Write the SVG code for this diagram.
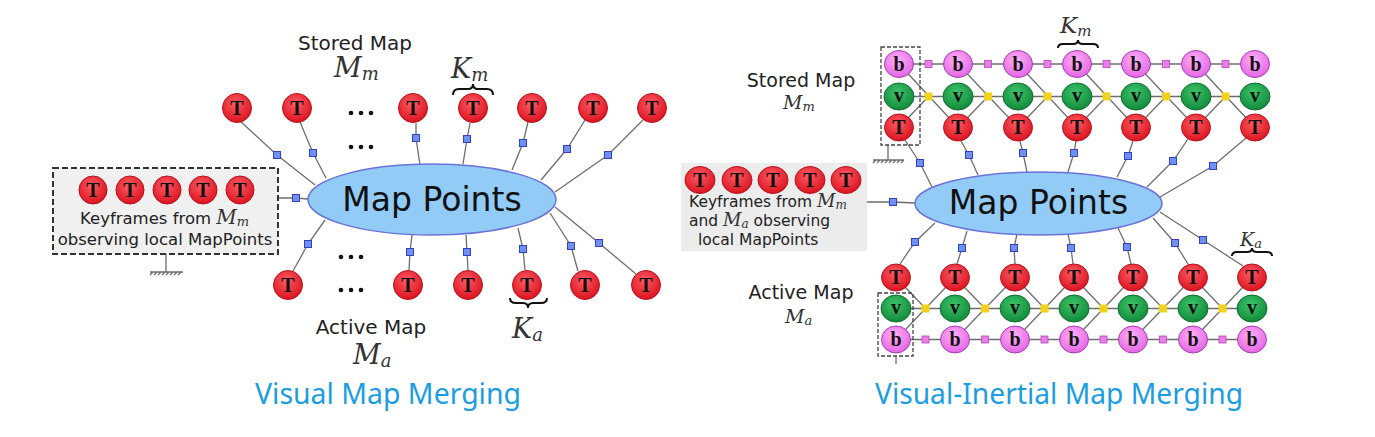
<svg xmlns="http://www.w3.org/2000/svg" width="1375" height="437" viewBox="0 0 1375 437">
<defs>
<radialGradient id="gT" cx="45%" cy="35%" r="65%"><stop offset="0" stop-color="#ff5a64"/><stop offset="1" stop-color="#d9141f"/></radialGradient>
<radialGradient id="gV" cx="45%" cy="35%" r="65%"><stop offset="0" stop-color="#3cc46a"/><stop offset="1" stop-color="#128a3a"/></radialGradient>
<radialGradient id="gB" cx="45%" cy="35%" r="65%"><stop offset="0" stop-color="#ffb0f6"/><stop offset="1" stop-color="#e466e4"/></radialGradient>
<style>
.ln{stroke:#6e6e6e;stroke-width:1.3;fill:none}
.sq{fill:#6f90f2;stroke:#3340c0;stroke-width:1}
.ysq{fill:#f2d21c}
.msq{fill:#e97ee9;stroke:#b548b5;stroke-width:0.8}
.tn{fill:url(#gT);stroke:#b8121f;stroke-width:1}
.vn{fill:url(#gV);stroke:#0f6e30;stroke-width:1}
.bn{fill:url(#gB);stroke:#a53cb5;stroke-width:1}
.lt{font-family:"Liberation Serif",serif;font-weight:bold;font-size:20px;fill:#111;text-anchor:middle}
.lab{font-family:"DejaVu Sans",sans-serif;fill:#222}
.mi{font-family:"DejaVu Serif",serif;font-style:italic;fill:#333}
.cap{font-family:"Noto Sans",sans-serif;fill:#1b9de2;font-size:29px}
.mp{fill:#93cbf7;stroke:#6a72d8;stroke-width:1.5}
.mpt{font-family:"DejaVu Sans",sans-serif;font-size:33px;fill:#111;text-anchor:middle}
.box{fill:#f0f0f0;stroke:#333;stroke-width:2;stroke-dasharray:6 3}
.dbox{fill:none;stroke:#444;stroke-width:1.3;stroke-dasharray:4 2}
.br{fill:none;stroke:#111;stroke-width:2}
.dot{fill:#111}
</style>
</defs>
<rect width="1375" height="437" fill="#fff"/>

<!-- LEFT: Visual Map Merging -->
<g id="left-connectors">
<polyline class="ln" points="240,121 277,155 315,185"/>
<polyline class="ln" points="300,122 313,153 326,178"/>
<polyline class="ln" points="416,123 416,138 420,165"/>
<polyline class="ln" points="470,123 467,139 463,164"/>
<polyline class="ln" points="528,122 523,143 512,170"/>
<polyline class="ln" points="585,120 567,149 541,180"/>
<polyline class="ln" points="643,120 608,155 555,192"/>
<polyline class="ln" points="293,271 308,244 325,220"/>
<polyline class="ln" points="409,270 410,252 412,235"/>
<polyline class="ln" points="468,270 467,252 466,235"/>
<polyline class="ln" points="525,270 523,249 518,228"/>
<polyline class="ln" points="578,271 571,246 550,213"/>
<polyline class="ln" points="636,274 599,243 555,207"/>
<polyline class="ln" points="278,198 296,198 308,199"/>
<path class="ln" d="M166 254V272M150 272H183M153 272l-3 3M157 272l-3 3M161 272l-3 3M165 272l-3 3M169 272l-3 3M173 272l-3 3M177 272l-3 3M181 272l-3 3"/>
<rect class="sq" x="273.5" y="151.5" width="7" height="7"/>
<rect class="sq" x="309.5" y="149.5" width="7" height="7"/>
<rect class="sq" x="412.5" y="134.5" width="7" height="7"/>
<rect class="sq" x="463.5" y="135.5" width="7" height="7"/>
<rect class="sq" x="519.5" y="139.5" width="7" height="7"/>
<rect class="sq" x="563.5" y="145.5" width="7" height="7"/>
<rect class="sq" x="604.5" y="151.5" width="7" height="7"/>
<rect class="sq" x="304.5" y="240.5" width="7" height="7"/>
<rect class="sq" x="406.5" y="248.5" width="7" height="7"/>
<rect class="sq" x="463.5" y="248.5" width="7" height="7"/>
<rect class="sq" x="519.5" y="245.5" width="7" height="7"/>
<rect class="sq" x="567.5" y="242.5" width="7" height="7"/>
<rect class="sq" x="595.5" y="239.5" width="7" height="7"/>
<rect class="sq" x="292.5" y="194.5" width="7" height="7"/>
</g>

<g id="left-mappoints">
<ellipse class="mp" cx="432" cy="199.5" rx="124" ry="35.5"/>
<text class="mpt" x="432" y="211">Map Points</text>
</g>

<g id="left-keyframes-box">
<rect class="box" x="53" y="168" width="225" height="86"/>
<circle class="tn" cx="93" cy="190" r="14"/><text class="lt" x="93" y="196.5">T</text>
<circle class="tn" cx="130" cy="190" r="14"/><text class="lt" x="130" y="196.5">T</text>
<circle class="tn" cx="167" cy="190" r="14"/><text class="lt" x="167" y="196.5">T</text>
<circle class="tn" cx="203" cy="190" r="14"/><text class="lt" x="203" y="196.5">T</text>
<circle class="tn" cx="240" cy="190" r="14"/><text class="lt" x="240" y="196.5">T</text>
<text class="lab" x="80" y="224" font-size="16.5">Keyframes from <tspan class="mi" font-size="20">M</tspan><tspan class="mi" font-size="13" dy="2">m</tspan></text>
<text class="lab" x="165" y="245" font-size="16.5" text-anchor="middle">observing local MapPoints</text>
</g>

<g id="left-stored-map">
<g id="vm-t1"><circle class="tn" cx="237" cy="108" r="14.5"/><text class="lt" x="237" y="114.5">T</text></g>
<g id="vm-t2"><circle class="tn" cx="297" cy="108" r="14.5"/><text class="lt" x="297" y="114.5">T</text></g>
<g id="vm-t3"><circle class="tn" cx="413" cy="108" r="14.5"/><text class="lt" x="413" y="114.5">T</text></g>
<g id="vm-t4"><circle class="tn" cx="473" cy="108" r="14.5"/><text class="lt" x="473" y="114.5">T</text></g>
<g id="vm-t5"><circle class="tn" cx="532" cy="108" r="14.5"/><text class="lt" x="532" y="114.5">T</text></g>
<g id="vm-t6"><circle class="tn" cx="593" cy="108" r="14.5"/><text class="lt" x="593" y="114.5">T</text></g>
<g id="vm-t7"><circle class="tn" cx="652" cy="108" r="14.5"/><text class="lt" x="652" y="114.5">T</text></g>
<circle class="dot" cx="351" cy="113" r="2.3"/><circle class="dot" cx="361" cy="113" r="2.3"/><circle class="dot" cx="371" cy="113" r="2.3"/>
<circle class="dot" cx="351" cy="147" r="2.3"/><circle class="dot" cx="361" cy="147" r="2.3"/><circle class="dot" cx="371" cy="147" r="2.3"/>
<text class="lab" x="355" y="50" font-size="20" text-anchor="middle">Stored Map</text>
<text class="mi" x="334" y="77" font-size="27">M<tspan font-size="18" dy="3">m</tspan></text>
<path class="br" d="M453 95Q453 89 459 89H468Q473 89 473 84Q473 89 478 89H487Q493 89 493 95"/>
<text class="mi" x="451" y="78" font-size="27">K<tspan font-size="18" dy="3">m</tspan></text>
</g>

<g id="left-active-map">
<g id="vm-a1"><circle class="tn" cx="288" cy="285" r="14.5"/><text class="lt" x="288" y="291.5">T</text></g>
<g id="vm-a2"><circle class="tn" cx="408" cy="285" r="14.5"/><text class="lt" x="408" y="291.5">T</text></g>
<g id="vm-a3"><circle class="tn" cx="468" cy="285" r="14.5"/><text class="lt" x="468" y="291.5">T</text></g>
<g id="vm-a4"><circle class="tn" cx="527" cy="285" r="14.5"/><text class="lt" x="527" y="291.5">T</text></g>
<g id="vm-a5"><circle class="tn" cx="585" cy="285" r="14.5"/><text class="lt" x="585" y="291.5">T</text></g>
<g id="vm-a6"><circle class="tn" cx="646" cy="285" r="14.5"/><text class="lt" x="646" y="291.5">T</text></g>
<circle class="dot" cx="341" cy="257" r="2.3"/><circle class="dot" cx="351" cy="257" r="2.3"/><circle class="dot" cx="361" cy="257" r="2.3"/>
<circle class="dot" cx="341" cy="290" r="2.3"/><circle class="dot" cx="351" cy="290" r="2.3"/><circle class="dot" cx="361" cy="290" r="2.3"/>
<text class="lab" x="371" y="334" font-size="20" text-anchor="middle">Active Map</text>
<text class="mi" x="353" y="364" font-size="27">M<tspan font-size="18" dy="3">a</tspan></text>
<path class="br" d="M510 298Q510 303 516 303H523Q528 303 528 308Q528 303 533 303H541Q547 303 547 298"/>
<text class="mi" x="512" y="338" font-size="27">K<tspan font-size="18" dy="3">a</tspan></text>
</g>

<text class="cap" x="255" y="404" textLength="266" lengthAdjust="spacingAndGlyphs">Visual Map Merging</text>

<!-- RIGHT: Visual-Inertial Map Merging -->
<g id="right-connectors">
<path class="ln" d="M899 64H1255M899 96.5H1255"/>
<path class="ln" d="M899 64L958 127.5M958 64L1018 127.5M1018 64L1077 127.5M1077 64L1136 127.5M1136 64L1196 127.5M1196 64L1255 127.5"/>
<path class="ln" d="M899 127.5L928.5 96.5M958 127.5L988 96.5M1018 127.5L1047.5 96.5M1077 127.5L1106.5 96.5M1136 127.5L1166 96.5M1196 127.5L1225.5 96.5"/>
<path class="ln" d="M896 339.5H1252M896 308.5H1252"/>
<path class="ln" d="M896 339.5L955 277.5M955 339.5L1015 277.5M1015 339.5L1074 277.5M1074 339.5L1133 277.5M1133 339.5L1193 277.5M1193 339.5L1252 277.5"/>
<path class="ln" d="M896 277.5L925.5 308.5M955 277.5L985 308.5M1015 277.5L1044.5 308.5M1074 277.5L1103.5 308.5M1133 277.5L1163 308.5M1193 277.5L1222.5 308.5"/>
<polyline class="ln" points="905,140 920,163 932,187"/>
<polyline class="ln" points="961,141 969,155 978,175"/>
<polyline class="ln" points="1020,141 1023,153 1027,172"/>
<polyline class="ln" points="1076,141 1074,153 1068,172"/>
<polyline class="ln" points="1133,141 1128,156 1117,177"/>
<polyline class="ln" points="1188,139 1173,161 1147,187"/>
<polyline class="ln" points="1246,138 1213,166 1160,197"/>
<polyline class="ln" points="900,264 915,242 935,223"/>
<polyline class="ln" points="957,264 962,248 967,231"/>
<polyline class="ln" points="1015,264 1014,248 1017,234"/>
<polyline class="ln" points="1073,264 1071,248 1068,234"/>
<polyline class="ln" points="1131,264 1127,247 1118,228"/>
<polyline class="ln" points="1188,264 1175,243 1153,218"/>
<polyline class="ln" points="1243,266 1203,240 1160,212"/>
<polyline class="ln" points="867,202 893,202 915,203"/>
<path class="ln" d="M888 145V160M873 160H904M876 160l-3 3M880 160l-3 3M884 160l-3 3M888 160l-3 3M892 160l-3 3M896 160l-3 3M900 160l-3 3M904 160l-3 3"/>
<path class="ln" d="M896 356V364"/>
<rect class="sq" x="916.5" y="159.5" width="7" height="7"/>
<rect class="sq" x="965.5" y="151.5" width="7" height="7"/>
<rect class="sq" x="1019.5" y="149.5" width="7" height="7"/>
<rect class="sq" x="1070.5" y="149.5" width="7" height="7"/>
<rect class="sq" x="1124.5" y="152.5" width="7" height="7"/>
<rect class="sq" x="1169.5" y="157.5" width="7" height="7"/>
<rect class="sq" x="1209.5" y="162.5" width="7" height="7"/>
<rect class="sq" x="911.5" y="238.5" width="7" height="7"/>
<rect class="sq" x="958.5" y="244.5" width="7" height="7"/>
<rect class="sq" x="1010.5" y="244.5" width="7" height="7"/>
<rect class="sq" x="1067.5" y="244.5" width="7" height="7"/>
<rect class="sq" x="1123.5" y="243.5" width="7" height="7"/>
<rect class="sq" x="1171.5" y="239.5" width="7" height="7"/>
<rect class="sq" x="1199.5" y="236.5" width="7" height="7"/>
<rect class="sq" x="889.5" y="198.5" width="7" height="7"/>
<rect class="ysq" x="924.5" y="92.5" width="8" height="8"/>
<rect class="ysq" x="984" y="92.5" width="8" height="8"/>
<rect class="ysq" x="1043.5" y="92.5" width="8" height="8"/>
<rect class="ysq" x="1102.5" y="92.5" width="8" height="8"/>
<rect class="ysq" x="1162" y="92.5" width="8" height="8"/>
<rect class="ysq" x="1221.5" y="92.5" width="8" height="8"/>
<rect class="ysq" x="921.5" y="304.5" width="8" height="8"/>
<rect class="ysq" x="981" y="304.5" width="8" height="8"/>
<rect class="ysq" x="1040.5" y="304.5" width="8" height="8"/>
<rect class="ysq" x="1099.5" y="304.5" width="8" height="8"/>
<rect class="ysq" x="1159" y="304.5" width="8" height="8"/>
<rect class="ysq" x="1218.5" y="304.5" width="8" height="8"/>
<rect class="msq" x="925" y="60.5" width="7" height="7"/>
<rect class="msq" x="984.5" y="60.5" width="7" height="7"/>
<rect class="msq" x="1044" y="60.5" width="7" height="7"/>
<rect class="msq" x="1103" y="60.5" width="7" height="7"/>
<rect class="msq" x="1162.5" y="60.5" width="7" height="7"/>
<rect class="msq" x="1222" y="60.5" width="7" height="7"/>
<rect class="msq" x="922" y="336" width="7" height="7"/>
<rect class="msq" x="981.5" y="336" width="7" height="7"/>
<rect class="msq" x="1041" y="336" width="7" height="7"/>
<rect class="msq" x="1100" y="336" width="7" height="7"/>
<rect class="msq" x="1159.5" y="336" width="7" height="7"/>
<rect class="msq" x="1219" y="336" width="7" height="7"/>
</g>

<g id="right-mappoints">
<ellipse class="mp" cx="1038.5" cy="203.5" rx="123.5" ry="31.5"/>
<text class="mpt" x="1038.5" y="214">Map Points</text>
</g>

<g id="right-keyframes-box">
<rect x="681" y="163" width="186" height="88" fill="#ececec"/>
<ellipse class="tn" cx="700" cy="180" rx="15" ry="13.5"/><text class="lt" x="700" y="186.5">T</text>
<ellipse class="tn" cx="737" cy="180" rx="15" ry="13.5"/><text class="lt" x="737" y="186.5">T</text>
<ellipse class="tn" cx="773" cy="180" rx="15" ry="13.5"/><text class="lt" x="773" y="186.5">T</text>
<ellipse class="tn" cx="810" cy="180" rx="15" ry="13.5"/><text class="lt" x="810" y="186.5">T</text>
<ellipse class="tn" cx="846" cy="180" rx="15" ry="13.5"/><text class="lt" x="846" y="186.5">T</text>
<text class="lab" x="689" y="207" font-size="15.5">Keyframes from <tspan class="mi" font-size="18">M</tspan><tspan class="mi" font-size="12" dy="1.5">m</tspan></text>
<text class="lab" x="689" y="226" font-size="15.5">and <tspan class="mi" font-size="18">M</tspan><tspan class="mi" font-size="12" dy="1.5">a</tspan><tspan dy="-1.5"> observing</tspan></text>
<text class="lab" x="698" y="245" font-size="15.5">local MapPoints</text>
</g>

<g id="right-stored-map">
<rect class="dbox" x="881" y="47" width="39" height="98"/>
<ellipse class="bn" cx="899" cy="64" rx="14.5" ry="13.5"/><text class="lt" x="899" y="70.5">b</text>
<ellipse class="bn" cx="958" cy="64" rx="14.5" ry="13.5"/><text class="lt" x="958" y="70.5">b</text>
<ellipse class="bn" cx="1018" cy="64" rx="14.5" ry="13.5"/><text class="lt" x="1018" y="70.5">b</text>
<ellipse class="bn" cx="1077" cy="64" rx="14.5" ry="13.5"/><text class="lt" x="1077" y="70.5">b</text>
<ellipse class="bn" cx="1136" cy="64" rx="14.5" ry="13.5"/><text class="lt" x="1136" y="70.5">b</text>
<ellipse class="bn" cx="1196" cy="64" rx="14.5" ry="13.5"/><text class="lt" x="1196" y="70.5">b</text>
<ellipse class="bn" cx="1255" cy="64" rx="14.5" ry="13.5"/><text class="lt" x="1255" y="70.5">b</text>
<ellipse class="vn" cx="899" cy="96.5" rx="15" ry="13.5"/><text class="lt" x="899" y="102">v</text>
<ellipse class="vn" cx="958" cy="96.5" rx="15" ry="13.5"/><text class="lt" x="958" y="102">v</text>
<ellipse class="vn" cx="1018" cy="96.5" rx="15" ry="13.5"/><text class="lt" x="1018" y="102">v</text>
<ellipse class="vn" cx="1077" cy="96.5" rx="15" ry="13.5"/><text class="lt" x="1077" y="102">v</text>
<ellipse class="vn" cx="1136" cy="96.5" rx="15" ry="13.5"/><text class="lt" x="1136" y="102">v</text>
<ellipse class="vn" cx="1196" cy="96.5" rx="15" ry="13.5"/><text class="lt" x="1196" y="102">v</text>
<ellipse class="vn" cx="1255" cy="96.5" rx="15" ry="13.5"/><text class="lt" x="1255" y="102">v</text>
<ellipse class="tn" cx="899" cy="127.5" rx="14.5" ry="13.5"/><text class="lt" x="899" y="134">T</text>
<ellipse class="tn" cx="958" cy="127.5" rx="14.5" ry="13.5"/><text class="lt" x="958" y="134">T</text>
<ellipse class="tn" cx="1018" cy="127.5" rx="14.5" ry="13.5"/><text class="lt" x="1018" y="134">T</text>
<ellipse class="tn" cx="1077" cy="127.5" rx="14.5" ry="13.5"/><text class="lt" x="1077" y="134">T</text>
<ellipse class="tn" cx="1136" cy="127.5" rx="14.5" ry="13.5"/><text class="lt" x="1136" y="134">T</text>
<ellipse class="tn" cx="1196" cy="127.5" rx="14.5" ry="13.5"/><text class="lt" x="1196" y="134">T</text>
<ellipse class="tn" cx="1255" cy="127.5" rx="14.5" ry="13.5"/><text class="lt" x="1255" y="134">T</text>
<text class="lab" x="801" y="87" font-size="19" text-anchor="middle">Stored Map</text>
<text class="mi" x="783" y="109" font-size="19">M<tspan font-size="13" dy="2">m</tspan></text>
<path class="br" d="M1058 48Q1058 44 1063 44H1073Q1078 44 1078 40Q1078 44 1083 44H1093Q1098 44 1098 48"/>
<text class="mi" x="1060" y="33" font-size="23">K<tspan font-size="15" dy="3">m</tspan></text>
</g>

<g id="right-active-map">
<rect class="dbox" x="878" y="293" width="35" height="63"/>
<ellipse class="tn" cx="896" cy="277.5" rx="14.5" ry="13.5"/><text class="lt" x="896" y="284">T</text>
<ellipse class="tn" cx="955" cy="277.5" rx="14.5" ry="13.5"/><text class="lt" x="955" y="284">T</text>
<ellipse class="tn" cx="1015" cy="277.5" rx="14.5" ry="13.5"/><text class="lt" x="1015" y="284">T</text>
<ellipse class="tn" cx="1074" cy="277.5" rx="14.5" ry="13.5"/><text class="lt" x="1074" y="284">T</text>
<ellipse class="tn" cx="1133" cy="277.5" rx="14.5" ry="13.5"/><text class="lt" x="1133" y="284">T</text>
<ellipse class="tn" cx="1193" cy="277.5" rx="14.5" ry="13.5"/><text class="lt" x="1193" y="284">T</text>
<ellipse class="tn" cx="1252" cy="277.5" rx="14.5" ry="13.5"/><text class="lt" x="1252" y="284">T</text>
<ellipse class="vn" cx="896" cy="308.5" rx="15" ry="13.5"/><text class="lt" x="896" y="314">v</text>
<ellipse class="vn" cx="955" cy="308.5" rx="15" ry="13.5"/><text class="lt" x="955" y="314">v</text>
<ellipse class="vn" cx="1015" cy="308.5" rx="15" ry="13.5"/><text class="lt" x="1015" y="314">v</text>
<ellipse class="vn" cx="1074" cy="308.5" rx="15" ry="13.5"/><text class="lt" x="1074" y="314">v</text>
<ellipse class="vn" cx="1133" cy="308.5" rx="15" ry="13.5"/><text class="lt" x="1133" y="314">v</text>
<ellipse class="vn" cx="1193" cy="308.5" rx="15" ry="13.5"/><text class="lt" x="1193" y="314">v</text>
<ellipse class="vn" cx="1252" cy="308.5" rx="15" ry="13.5"/><text class="lt" x="1252" y="314">v</text>
<ellipse class="bn" cx="896" cy="339.5" rx="14.5" ry="13.5"/><text class="lt" x="896" y="346">b</text>
<ellipse class="bn" cx="955" cy="339.5" rx="14.5" ry="13.5"/><text class="lt" x="955" y="346">b</text>
<ellipse class="bn" cx="1015" cy="339.5" rx="14.5" ry="13.5"/><text class="lt" x="1015" y="346">b</text>
<ellipse class="bn" cx="1074" cy="339.5" rx="14.5" ry="13.5"/><text class="lt" x="1074" y="346">b</text>
<ellipse class="bn" cx="1133" cy="339.5" rx="14.5" ry="13.5"/><text class="lt" x="1133" y="346">b</text>
<ellipse class="bn" cx="1193" cy="339.5" rx="14.5" ry="13.5"/><text class="lt" x="1193" y="346">b</text>
<ellipse class="bn" cx="1252" cy="339.5" rx="14.5" ry="13.5"/><text class="lt" x="1252" y="346">b</text>
<text class="lab" x="801" y="299" font-size="19" text-anchor="middle">Active Map</text>
<text class="mi" x="785" y="323" font-size="19">M<tspan font-size="13" dy="2">a</tspan></text>
<path class="br" d="M1232 256Q1232 252 1237 252H1247Q1252 252 1252 248Q1252 252 1257 252H1267Q1272 252 1272 256"/>
<text class="mi" x="1240" y="246" font-size="19">K<tspan font-size="13" dy="2">a</tspan></text>
</g>

<text class="cap" x="875" y="404" textLength="368" lengthAdjust="spacingAndGlyphs">Visual-Inertial Map Merging</text>
</svg>
